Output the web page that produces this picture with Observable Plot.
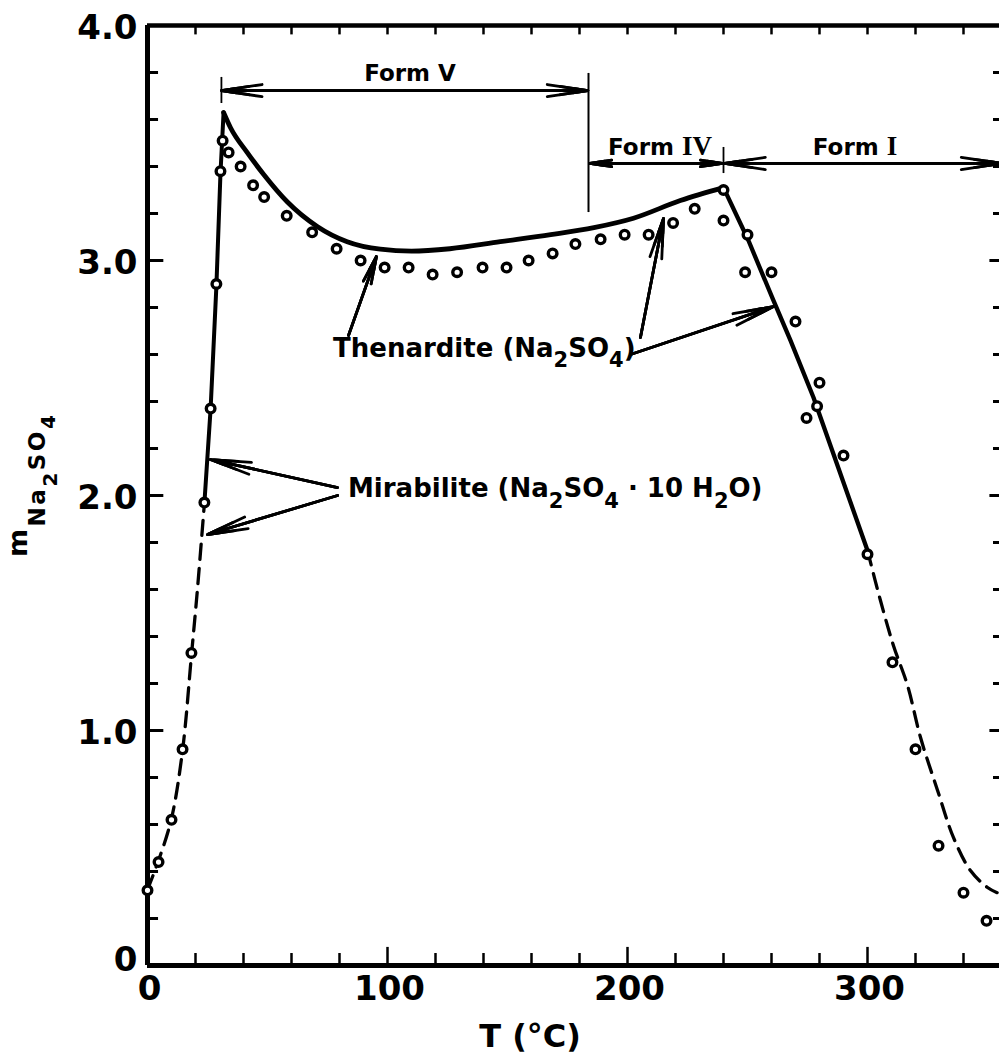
<!DOCTYPE html>
<html><head><meta charset="utf-8">
<script src="https://cdn.jsdelivr.net/npm/d3@7"></script>
<script src="https://cdn.jsdelivr.net/npm/@observablehq/plot@0.6"></script>
<style>
html,body{margin:0;padding:0;background:#fff;overflow:hidden;width:999px;height:1059px}
#chart{width:999px;height:1059px;overflow:hidden}
#chart svg{display:block;max-width:none !important;width:1011px !important;height:1059px !important}
</style></head><body><div id="chart"></div>
<script>
// ---- data (T in °C, m in mol/kg) ----
const observed = [
  [0,0.32],[4.6,0.44],[10,0.62],[14.6,0.92],[18.3,1.33],[23.7,1.97],[26.3,2.37],[28.7,2.90],
  [30.4,3.38],[31.3,3.51],[33.8,3.46],[38.8,3.40],[44,3.32],[48.6,3.27],[58,3.19],[68.6,3.12],
  [78.8,3.05],[88.8,3.00],[98.8,2.97],[108.8,2.97],[118.8,2.94],[129,2.95],[139.6,2.97],[149.6,2.97],
  [158.8,3.00],[168.8,3.03],[178.3,3.07],[188.8,3.09],[198.8,3.11],[208.8,3.11],[219,3.16],[228,3.22],
  [240,3.30],[240,3.17],[250,3.11],[249,2.95],[260,2.95],[270,2.74],[280,2.48],[279,2.38],
  [274.6,2.33],[290,2.17],[300,1.75],[310.4,1.29],[320,0.92],[329.6,0.51],[340,0.31],[349.6,0.19]
];
const mirabiliteDashed = [[0,0.323],[4.6,0.447],[10,0.626],[14.6,0.915],[18.3,1.319],[20.8,1.60],[23.7,1.966]];
const mirabiliteSolid = [[23.7,1.966],[26.3,2.37],[28.7,2.89],[30.4,3.37],[31.7,3.63]];
const thenarditeCurve = [[31.7,3.63],[34.6,3.565],[41.5,3.46],[48.5,3.365],[58.2,3.25],[70.7,3.145],[83.2,3.08],
  [97,3.048],[110,3.04],[126,3.05],[147,3.08],[168,3.11],[186,3.14],[202.5,3.18],[222,3.255],[240,3.31]];
const formILine = [[240,3.31],[250.4,3.085],[260.8,2.83],[267.9,2.66],[277.5,2.417],[300,1.766]];
const formIDashed = [[300,1.766],[305.4,1.553],[310.8,1.362],[316.7,1.191],[322.1,0.97],[329.2,0.745],
  [335.8,0.545],[342.9,0.404],[350,0.332],[354,0.31]];

// phase-range arrows
const formRanges = [
  {label:"V",  from:30.8,  to:183.5, m:3.723},
  {label:"IV", from:184.3, to:239.5, m:3.413},
  {label:"I",  from:240.5, to:356,   m:3.413}
];
const annotationArrows = [
  [79.2,2.034,26.25,2.153],[79.2,2.0,25,1.834],
  [83.75,2.681,95.4,3.017],[205.4,2.672,215,3.179],[201.25,2.6,260.8,2.804]
];

// axes
const xTickValues = [0,100,200,300];
const xTickLabels = ["0","100","200","300"];
const xMinorTicks = [20,40,60,80,120,140,160,180,220,240,260,280,320,340];
const yTickValues = [1,2,3,4];
const yTickLabels = ["1.0","2.0","3.0","4.0"];
const yMinorTicks = [0.2,0.4,0.6,0.8,1.2,1.4,1.6,1.8,2.2,2.4,2.6,2.8,3.2,3.4,3.6,3.8];
const yMajorTicks = [1,2,3];

const FONT = "DejaVu Sans";
const pt = d => d;
const arrowRows = formRanges.flatMap(r => {
  const mid = (r.from + r.to) / 2;
  return [{x1:mid,y1:r.m,x2:r.from,y2:r.m},{x1:mid,y1:r.m,x2:r.to,y2:r.m}];
}).concat(annotationArrows.map(([x1,y1,x2,y2]) => ({x1,y1,x2,y2})));
const arrowOpts = {x1:"x1", y1:"y1", x2:"x2", y2:"y2", stroke:"black", strokeLinejoin:"miter", strokeWidth:2.8, headAngle:17};

const plot = Plot.plot({
  width: 1011, height: 1059,
  marginLeft: 147, marginRight: 0, marginTop: 25, marginBottom: 94,
  x: {domain:[0,360], axis:null},
  y: {domain:[0,4], axis:null},
  style: {background:"white", fontFamily: FONT, maxWidth:"none"},
  marks: [
    // frame
    Plot.ruleX([0], {stroke:"black", strokeWidth:5}),
    Plot.ruleY([0], {stroke:"black", strokeWidth:5}),
    Plot.ruleY([4], {stroke:"black", strokeWidth:4.5}),
    // left ticks
    Plot.ruleY(yMinorTicks, {y:pt, x1:0, x2:4.6, stroke:"black", strokeWidth:3}),
    Plot.ruleY(yMajorTicks, {y:pt, x1:0, x2:6.8, stroke:"black", strokeWidth:3}),
    // right ticks
    Plot.ruleY(yMinorTicks, {y:pt, x1:352.5, x2:360, stroke:"black", strokeWidth:3}),
    Plot.ruleY(yMajorTicks, {y:pt, x1:351, x2:360, stroke:"black", strokeWidth:3}),
    // bottom ticks
    Plot.ruleX(xMinorTicks, {x:pt, y1:0, y2:0.051, stroke:"black", strokeWidth:2.5}),
    Plot.ruleX(xTickValues.slice(1), {x:pt, y1:0, y2:0.077, stroke:"black", strokeWidth:2.5}),
    // top ticks
    Plot.ruleX(xMinorTicks.concat(xTickValues.slice(1)), {x:pt, y1:4, y2:3.96, stroke:"black", strokeWidth:2.5}),
    // tick labels
    Plot.text(yTickValues, {x:0, y:pt, text:(d,i)=>yTickLabels[i], dx:-10, dy:3, textAnchor:"end",
      fontSize:34, fontWeight:"bold", fontFamily:FONT, fill:"black"}),
    Plot.text([0], {x:0, y:pt, text:["0"], dx:-10, dy:-5, textAnchor:"end",
      fontSize:34, fontWeight:"bold", fontFamily:FONT, fill:"black"}),
    Plot.text(xTickValues, {x:pt, y:0, text:(d,i)=>xTickLabels[i], dy:24, dx:2,
      fontSize:34, fontWeight:"bold", fontFamily:FONT, fill:"black"}),
    // phase boundary marks
    Plot.ruleX([30.8], {x:pt, y1:3.668, y2:3.779, stroke:"black", strokeWidth:1.8}),
    Plot.ruleX([183.75], {x:pt, y1:3.204, y2:3.796, stroke:"black", strokeWidth:2}),
    Plot.ruleX([240], {x:pt, y1:3.370, y2:3.481, stroke:"black", strokeWidth:1.8}),
    // curves
    Plot.line(mirabiliteDashed, {x:d=>d[0], y:d=>d[1], stroke:"black", strokeWidth:3.3, strokeDasharray:"15,9", curve:"catmull-rom"}),
    Plot.line(mirabiliteSolid, {x:d=>d[0], y:d=>d[1], stroke:"black", strokeWidth:4}),
    Plot.line(thenarditeCurve, {x:d=>d[0], y:d=>d[1], stroke:"black", strokeWidth:4.8, curve:"monotone-x"}),
    Plot.line(formILine, {x:d=>d[0], y:d=>d[1], stroke:"black", strokeWidth:4.3}),
    Plot.line(formIDashed, {x:d=>d[0], y:d=>d[1], stroke:"black", strokeWidth:3.3, strokeDasharray:"15,9", curve:"catmull-rom"}),
    // arrows (heads drawn several times so they look filled)
    Plot.arrow(arrowRows, {...arrowOpts, headLength:22}),
    Plot.arrow(arrowRows, {...arrowOpts, headLength:15}),
    Plot.arrow(arrowRows, {...arrowOpts, headLength:8}),
    // observed points
    Plot.dot(observed, {x:d=>d[0], y:d=>d[1], r:4.3, stroke:"black", strokeWidth:3.4, fill:"white"})
  ]
});
document.getElementById("chart").appendChild(plot);

// ---- rich text (subscripts) placed through the plot's scales ----
const sx = v => plot.scale("x").apply(v);
const sy = v => plot.scale("y").apply(v);
const svg = d3.select(plot);
function rich(x, y, parts, {anchor="start", size=26, rotate=0, spacing=0} = {}) {
  const t = svg.append("text")
    .attr("transform", `translate(${x},${y}) rotate(${rotate})`)
    .attr("text-anchor", anchor)
    .attr("font-family", FONT).attr("font-weight", "bold")
    .attr("font-size", size).attr("fill", "black")
    .attr("letter-spacing", spacing);
  let prev = 0;
  for (const p of parts) {
    const shift = p.shift || 0;
    const ts = t.append("tspan").text(p.t).attr("dy", shift - prev);
    if (p.size) ts.attr("font-size", p.size);
    if (p.family) ts.attr("font-family", p.family);
    prev = shift;
  }
  return t;
}
const SERIF = "Liberation Serif";
rich(sx(109.6), sy(3.762), [{t:"Form V"}], {anchor:"middle", size:23});
rich(sx(213.75), sy(3.447), [{t:"Form "},{t:"IV", family:SERIF, size:27}], {anchor:"middle", size:23});
rich(sx(295), sy(3.447), [{t:"Form "},{t:"I", family:SERIF, size:27}], {anchor:"middle", size:23});
rich(sx(77.5), sy(2.587), [
  {t:"Thenardite (Na"},{t:"2", shift:10, size:21},{t:"SO"},{t:"4", shift:10, size:21},{t:")"}
], {size:26});
rich(sx(83.75), sy(1.991), [
  {t:"Mirabilite (Na"},{t:"2", shift:11, size:21},{t:"SO"},{t:"4", shift:11, size:21},
  {t:" · 10 H"},{t:"2", shift:11, size:21},{t:"O)"}
], {size:26});
// axis titles
rich(sx(0) - 120, sy(1.736), [
  {t:"m", size:27},{t:"Na", shift:18, size:23},{t:"2", shift:30, size:20},{t:"SO", shift:18, size:23},{t:"4", shift:28, size:20}
], {rotate:-90, spacing:2.5});
rich(sx(159.6), sy(0) + 82, [{t:"T (°C)"}], {anchor:"middle", size:32});
</script></body></html>
